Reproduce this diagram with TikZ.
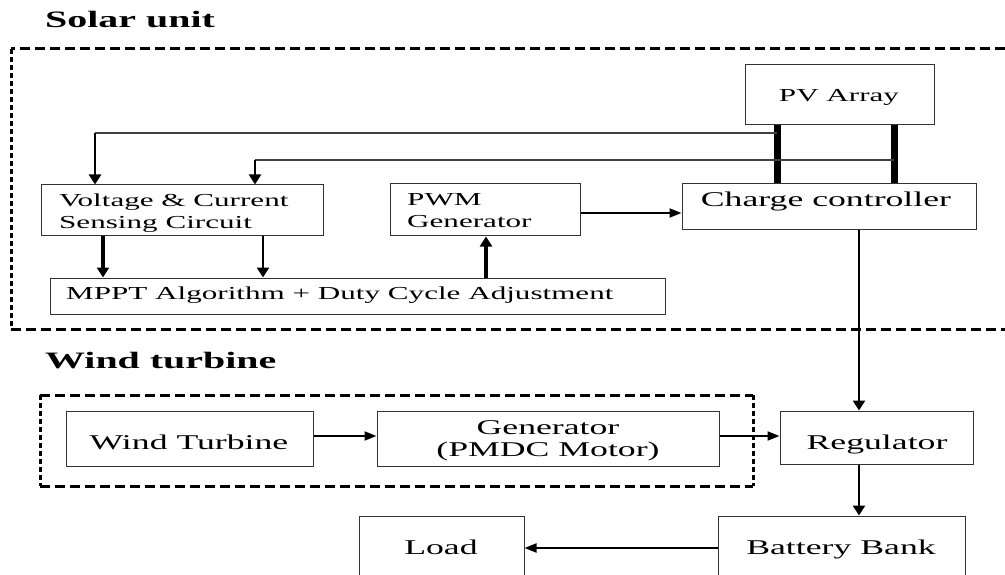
\documentclass[tikz,border=0pt]{standalone}
\usepackage{fontspec}
\setmainfont{Liberation Serif}[FakeStretch=1.7]
\usetikzlibrary{arrows.meta}
\begin{document}
\begin{tikzpicture}[x=1pt,y=-1pt,
  box/.style={draw=black!80, line width=1pt, inner sep=0pt, rectangle},
  big/.style={font=\fontsize{21}{22}\selectfont, inner sep=0pt},
  small/.style={font=\fontsize{18.3}{22}\selectfont, inner sep=0pt},
  head/.style={font=\fontsize{23.5}{26}\selectfont\bfseries, inner sep=0pt},
  vtip/.style={-{Triangle[length=10pt,width=12pt]}},
  htip/.style={-{Triangle[length=12pt,width=9pt]}},
  bar/.style={line width=7pt},
  fbline/.style={draw=black!75, line width=1.3pt},
  dashline/.style={line width=3pt, dash pattern=on 10pt off 5pt},
  dotline/.style={line width=3pt, dash pattern=on 5pt off 3pt}]
\clip (0,0) rectangle (1005,575);
\fill[white] (0,0) rectangle (1005,575);

% headings
\node[head, anchor=base west] (solarlbl) at (45,28) {Solar unit};
\node[head, anchor=base west] (windlbl) at (45,368) {Wind turbine};

% dashed groups
\draw[dashline] (1005,49) -- (11,49);
\draw[dotline] (11,49) -- (11,329);
\draw[dashline] (11,329) -- (1005,329);
\draw[dashline] (40,395) -- (753,395);
\draw[dashline] (40,486) -- (753,486);
\draw[dotline] (40,395) -- (40,486);
\draw[dotline] (753,395) -- (753,486);

% boxes
\node[box, minimum width=189pt, minimum height=60pt] (pv) at (839.5,95) {};
\node[box, minimum width=294pt, minimum height=46pt] (cc) at (829,207) {};
\node[box, minimum width=282pt, minimum height=51pt] (vcs) at (182,210.5) {};
\node[box, minimum width=190pt, minimum height=52pt] (pwm) at (485,210) {};
\node[box, minimum width=615pt, minimum height=36pt] (mppt) at (357.5,296) {};
\node[box, minimum width=247pt, minimum height=55pt] (wt) at (189.5,438.5) {};
\node[box, minimum width=342pt, minimum height=55pt] (gen) at (548,438.5) {};
\node[box, minimum width=193pt, minimum height=53pt] (reg) at (876.5,437.5) {};
\node[box, minimum width=247pt, minimum height=84pt] (bat) at (841.5,558) {};
\node[box, minimum width=165pt, minimum height=84pt] (load) at (441.5,558) {};

% texts
\node[small, anchor=base] (pvt) at (839,102) {PV Array};
\node[big, anchor=base] (cct) at (826,207) {Charge controller};
\node[small, anchor=base west] (vcst1) at (59,207) {Voltage \& Current};
\node[small, anchor=base west] (vcst2) at (59,229) {Sensing Circuit};
\node[small, anchor=base west] (pwmt1) at (407,206) {PWM};
\node[small, anchor=base west] (pwmt2) at (407,228) {Generator};
\node[small, anchor=base west] (mpptt) at (66,299) {MPPT Algorithm + Duty Cycle Adjustment};
\node[big, anchor=base] (wtt) at (189,449) {Wind Turbine};
\node[big, anchor=base] (gent1) at (548,434) {Generator};
\node[big, anchor=base] (gent2) at (548,456) {(PMDC Motor)};
\node[big, anchor=base] (regt) at (877,449) {Regulator};
\node[big, anchor=base] (batt) at (841,554) {Battery Bank};
\node[big, anchor=base] (loadt) at (441,554) {Load};

% helper coordinates
\coordinate (b1x) at (777,0);
\coordinate (b2x) at (894,0);
\coordinate (f1) at (95,133);
\coordinate (f2) at (255,160);
\coordinate (d1) at (103,0);
\coordinate (d2) at (263,0);
\coordinate (u1) at (486,0);
\coordinate (v1) at (859,0);
\coordinate (h1) at (0,213);
\coordinate (h2) at (0,548);
\coordinate (h3) at (0,436);

% PV to charge controller
\draw[bar] (pv.south -| b1x) -- (cc.north -| b1x);
\draw[bar] (pv.south -| b2x) -- (cc.north -| b2x);

% feedback to sensing circuit
\draw[fbline] (f1 -| b1x) -- (f1);
\draw[vtip, line width=2.6pt] (f1) -- (vcs.north -| f1);
\draw[fbline] (f2 -| b2x) -- (f2);
\draw[vtip, line width=2pt] (f2) -- (vcs.north -| f2);

% sensing to MPPT, MPPT to PWM
\draw[vtip, line width=4pt] (vcs.south -| d1) -- (mppt.north -| d1);
\draw[vtip, line width=2.5pt] (vcs.south -| d2) -- (mppt.north -| d2);
\draw[vtip, line width=4pt] (mppt.north -| u1) -- (pwm.south -| u1);

% PWM to charge controller
\draw[htip, line width=2pt] (pwm.east |- h1) -- (cc.west |- h1);

% charge controller to regulator to battery
\draw[vtip, line width=2.8pt] (cc.south -| v1) -- (reg.north -| v1);
\draw[vtip, line width=2.8pt] (reg.south -| v1) -- (bat.north -| v1);

% wind chain
\draw[htip, line width=2pt] (wt.east |- h3) -- (gen.west |- h3);
\draw[htip, line width=2pt] (gen.east |- h3) -- (reg.west |- h3);

% battery to load
\draw[htip, line width=2pt] (bat.west |- h2) -- (load.east |- h2);
\end{tikzpicture}
\end{document}
